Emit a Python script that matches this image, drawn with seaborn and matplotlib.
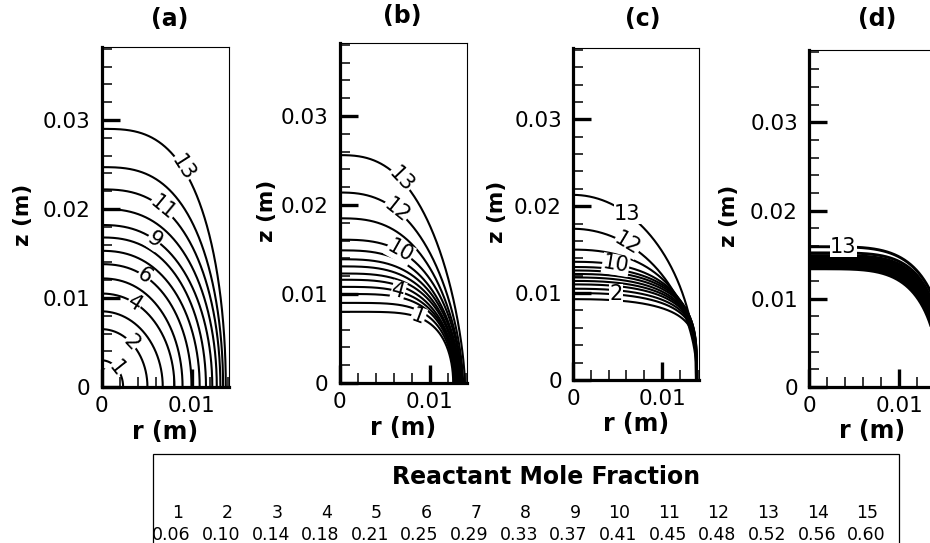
import numpy as np
import pandas as pd
import matplotlib
matplotlib.use("Agg")
import matplotlib.pyplot as plt
from matplotlib.ticker import MultipleLocator, FuncFormatter
from matplotlib.patches import Rectangle
import seaborn as sns

# Contour levels of the reactant mole fraction
level_ids = list(range(1, 16))
mole_fractions = [0.06, 0.10, 0.14, 0.18, 0.21, 0.25, 0.29, 0.33,
                  0.37, 0.41, 0.45, 0.48, 0.52, 0.56, 0.60]
drawn_levels = list(range(1, 14))

# Isolines 1-13 of each panel: height on the axis r = 0 (m), radius on the
# floor z = 0 (m), and superellipse exponents along r and z.
axis_z_a = [0.0030, 0.0065, 0.0085, 0.0105, 0.0122, 0.0138, 0.0153,
            0.0168, 0.0182, 0.0200, 0.0222, 0.0247, 0.0290]
floor_r_a = [0.0024, 0.0051, 0.0068, 0.0081, 0.0090, 0.0100, 0.0109,
             0.0116, 0.0123, 0.0128, 0.0132, 0.0135, 0.0138]
shape_r_a = [2.0, 2.0, 2.0, 2.1, 2.2, 2.3, 2.3, 2.4, 2.4, 2.5, 2.6, 2.8, 3.0]
shape_z_a = [2.0, 2.0, 2.0, 2.0, 2.0, 2.0, 2.0, 2.0, 2.0, 2.0, 2.0, 2.0, 2.0]

axis_z_b = [0.0080, 0.0090, 0.0100, 0.0108, 0.0116, 0.0123, 0.0131,
            0.0139, 0.0149, 0.0161, 0.0185, 0.0214, 0.0256]
floor_r_b = [0.0126, 0.0127, 0.0128, 0.0129, 0.0130, 0.0131, 0.0132,
             0.0133, 0.0134, 0.0135, 0.0136, 0.0137, 0.0139]
shape_r_b = [5.2, 4.6, 4.0, 3.5, 3.3, 3.2, 3.1, 3.0, 2.95, 2.9, 2.7, 2.5, 2.6]
shape_z_b = [2.0, 2.0, 2.0, 2.0, 1.9, 1.9, 1.8, 1.8, 1.7, 1.7, 1.6, 1.6, 1.5]

axis_z_c = [0.0093, 0.0100, 0.0105, 0.0110, 0.0114, 0.0118, 0.0122,
            0.0126, 0.0130, 0.0136, 0.0150, 0.0174, 0.0213]
floor_r_c = [0.0138, 0.0138, 0.0138, 0.0138, 0.0138, 0.0138, 0.0139,
             0.0139, 0.0139, 0.0139, 0.0139, 0.0139, 0.0139]
shape_r_c = [2.5, 2.5, 2.5, 2.5, 2.5, 2.5, 2.5, 2.5, 2.5, 2.5, 2.3, 2.0, 2.0]
shape_z_c = [5.0, 4.8, 4.6, 4.4, 4.2, 4.0, 3.8, 3.6, 3.4, 3.0, 2.5, 2.0, 2.0]

axis_z_d = [0.0134, 0.0136, 0.0137, 0.0139, 0.0140, 0.0142, 0.0143,
            0.0145, 0.0146, 0.0148, 0.0149, 0.0152, 0.0159]
floor_r_d = [0.0145, 0.0146, 0.0146, 0.0147, 0.0148, 0.0148, 0.0149,
             0.0150, 0.0150, 0.0151, 0.0151, 0.0152, 0.0155]
shape_r_d = [4.5, 4.5, 4.6, 4.6, 4.7, 4.7, 4.8, 4.8, 4.9, 4.9, 5.0, 5.0, 4.5]
shape_z_d = [2.0, 2.0, 2.0, 2.0, 2.0, 2.0, 2.0, 2.0, 2.0, 2.0, 2.0, 2.0, 2.0]

panel_names = ["(a)", "(b)", "(c)", "(d)"]
panel_data = [
    (axis_z_a, floor_r_a, shape_r_a, shape_z_a),
    (axis_z_b, floor_r_b, shape_r_b, shape_z_b),
    (axis_z_c, floor_r_c, shape_r_c, shape_z_c),
    (axis_z_d, floor_r_d, shape_r_d, shape_z_d),
]

# Inline labels: level -> (radius where the label sits, keep horizontal)
labels_a = {13: (0.0090, False), 11: (0.0068, False), 9: (0.0059, False),
            6: (0.0048, False), 4: (0.0037, False), 2: (0.0033, False),
            1: (0.0017, False)}
labels_b = {13: (0.0068, False), 12: (0.0063, False), 10: (0.0067, False),
            4: (0.0065, False), 1: (0.0087, False)}
labels_c = {13: (0.0061, True), 12: (0.0061, False), 10: (0.0048, False),
            2: (0.0048, True)}
labels_d = {13: (0.0038, True)}
panel_labels = [labels_a, labels_b, labels_c, labels_d]


def isoline(z0, r0, pr, pz, n=500):
    t = np.linspace(0.0, np.pi / 2, n)
    r = r0 * np.cos(t) ** (2.0 / pr)
    z = z0 * np.sin(t) ** (2.0 / pz)
    return r, z


def height_at(r, z0, r0, pr, pz):
    x = np.clip(r / r0, 0, 1)
    return z0 * (1.0 - x ** pr) ** (1.0 / pz)


sns.set_theme(style="white", rc={
    "axes.edgecolor": "black", "text.color": "black",
    "xtick.color": "black", "ytick.color": "black",
    "axes.labelcolor": "black",
})
plt.rcParams["font.family"] = ["DejaVu Sans"]

W, H = 930, 543
fig = plt.figure(figsize=(W / 100, H / 100), dpi=100)
fig.patch.set_facecolor("white")

# left, bottom, right, top of each panel in pixels
boxes = [(101.5, 387, 228.5, 47), (339.7, 383, 466.7, 43),
         (573, 380, 698.7, 48), (809, 387, 936, 50)]
title_pos = [(170, 19), (402, 16), (643, 19), (877, 19)]
ylabel_x = [-0.622, -0.572, -0.607, -0.63]
line_w = [1.5, 1.5, 1.5, 2.1]

fmt = FuncFormatter(lambda v, p: "0" if abs(v) < 1e-12 else f"{v:.2f}")

for k, (name, (Zs, Rs, Ps, Qs), labs) in enumerate(
        zip(panel_names, panel_data, panel_labels)):
    l, b, r, t = boxes[k]
    ax = fig.add_axes([l / W, 1 - b / H, (r - l) / W, (b - t) / H])
    ax.set_facecolor("white")

    rows = []
    for lvl, z0, r0, pr, pz in zip(drawn_levels, Zs, Rs, Ps, Qs):
        rr, zz = isoline(z0, r0, pr, pz)
        rows.append(pd.DataFrame({"level": lvl, "r": rr, "z": zz}))
    df = pd.concat(rows, ignore_index=True)
    sns.lineplot(data=df, x="r", y="z", units="level", estimator=None,
                 sort=False, color="black", linewidth=line_w[k], ax=ax,
                 legend=False)

    ax.set_xlim(0, 0.0141)
    ax.set_ylim(0, 0.0382)

    ax.xaxis.set_major_locator(MultipleLocator(0.01))
    ax.xaxis.set_minor_locator(MultipleLocator(0.002))
    ax.yaxis.set_major_locator(MultipleLocator(0.01))
    ax.yaxis.set_minor_locator(MultipleLocator(0.002))
    ax.xaxis.set_major_formatter(fmt)
    ax.yaxis.set_major_formatter(fmt)
    ax.tick_params(which="both", direction="in", top=False, right=False,
                   left=True, bottom=True)
    ax.tick_params(which="major", length=13, width=2.4, labelsize=15.5)
    ax.tick_params(which="minor", length=7, width=1.1)
    ax.tick_params(axis="y", which="major", pad=8)
    ax.tick_params(axis="x", which="major", pad=6.5)

    for side in ("left", "bottom"):
        ax.spines[side].set_linewidth(2.3)
    for side in ("top", "right"):
        ax.spines[side].set_linewidth(0.8)

    ax.set_xlabel("r (m)", fontsize=17, fontweight="bold", va="center")
    ax.xaxis.set_label_coords(0.5, -0.132)
    ax.set_ylabel("z (m)", fontsize=15.5, fontweight="bold", va="center")
    ax.yaxis.set_label_coords(ylabel_x[k], 0.507)

    fig.text(title_pos[k][0] / W, 1 - title_pos[k][1] / H, name,
             fontsize=17, fontweight="bold", ha="center", va="center")

    for lvl, (r_lab, flat) in labs.items():
        i = drawn_levels.index(lvl)
        z_lab = height_at(r_lab, Zs[i], Rs[i], Ps[i], Qs[i])
        if flat:
            ang = 0.0
        else:
            dr = 2e-4
            za = height_at(r_lab - dr, Zs[i], Rs[i], Ps[i], Qs[i])
            zb = height_at(r_lab + dr, Zs[i], Rs[i], Ps[i], Qs[i])
            p0 = ax.transData.transform((r_lab - dr, za))
            p1 = ax.transData.transform((r_lab + dr, zb))
            ang = np.degrees(np.arctan2(p1[1] - p0[1], p1[0] - p0[0]))
        ax.text(r_lab, z_lab, str(lvl), rotation=ang, rotation_mode="anchor",
                ha="center", va="center", fontsize=15, zorder=5,
                bbox=dict(boxstyle="square,pad=0.02", fc="white", ec="none"))

# Level table below the panels
box = Rectangle((153 / W, -0.05), (899 - 153) / W, (H - 454) / H + 0.05,
                transform=fig.transFigure, fill=False, lw=0.9,
                ec="black")
fig.add_artist(box)
fig.text(546.5 / W, 1 - 476.5 / H, "Reactant Mole Fraction", fontsize=17,
         fontweight="bold", ha="center", va="center")
for i, (lid, mf) in enumerate(zip(level_ids, mole_fractions)):
    xc = 171.3 + 49.66 * i
    fig.text((xc + 12) / W, 1 - 513 / H, str(lid), fontsize=12.5,
             ha="right", va="center")
    fig.text(xc / W, 1 - 535 / H, f"{mf:.2f}", fontsize=12.5,
             ha="center", va="center")

fig.savefig("out.png", dpi=100, facecolor="white")
